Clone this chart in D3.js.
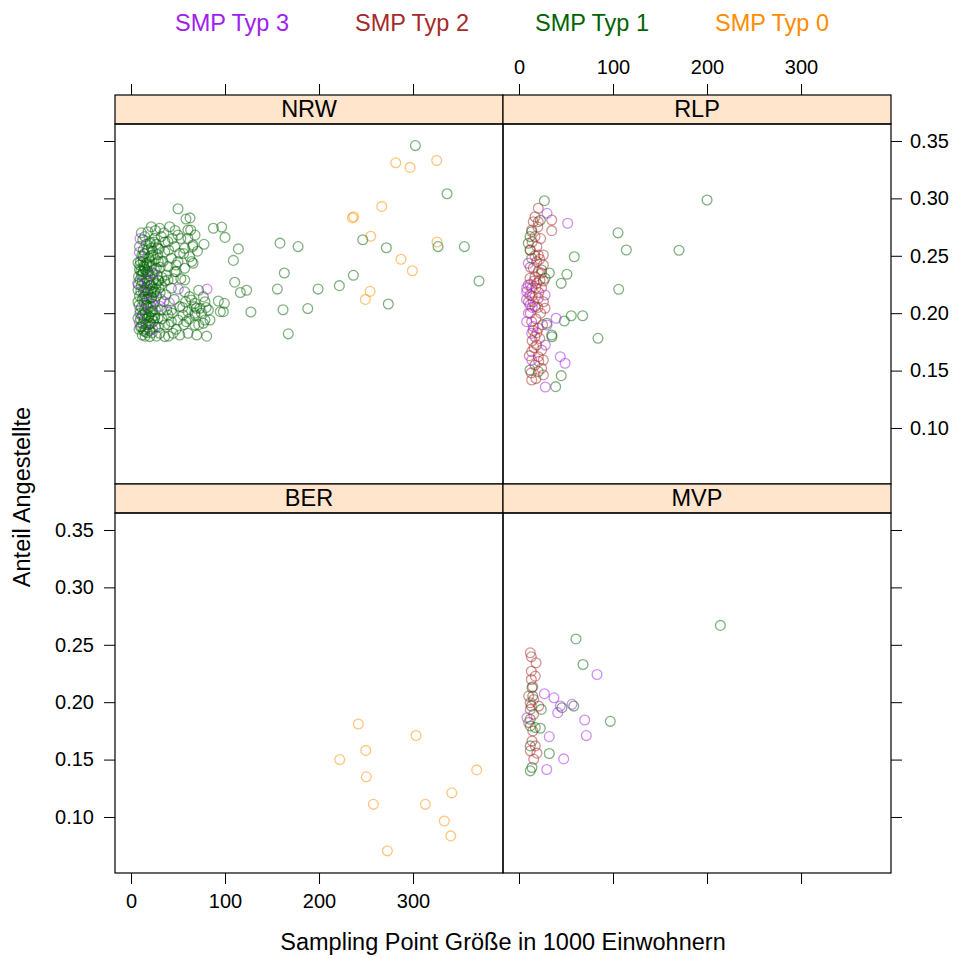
<!DOCTYPE html>
<html><head><meta charset="utf-8">
<script src="https://cdn.jsdelivr.net/npm/d3@7/dist/d3.min.js"></script>
<style>body{margin:0;background:#fff}</style>
</head><body><svg id="c" width="963" height="958"></svg>
<script>
const groups = ["SMP Typ 3","SMP Typ 2","SMP Typ 1","SMP Typ 0"];
const groupColors = ["#A020F0","#A52A2A","#006400","#FF8C00"];
const panelNames = ["NRW","RLP","BER","MVP"];
const xTicks = [0,100,200,300];
const yTicks = [0.10,0.15,0.20,0.25,0.30,0.35];
const xTitle = "Sampling Point Größe in 1000 Einwohnern";
const yTitle = "Anteil Angestellte";

const nrwTyp0 = [[281.6,0.331],[296.8,0.327],[325.2,0.333],[266.7,0.293],[235.5,0.283],[236.8,0.284],[255,0.267],[325.5,0.262],[287.2,0.247],[299.3,0.237],[254.3,0.219],[249.3,0.212]];
const nrwTyp1 = [[302.5,0.346],[336.2,0.304],[246.5,0.264],[158.5,0.261],[177.7,0.258],[271.6,0.257],[326.6,0.258],[354.6,0.258],[163.1,0.235],[236.5,0.233],[221.6,0.224],[370.2,0.228],[155.7,0.221],[199,0.221],[273.7,0.208],[127.5,0.201],[161.7,0.203],[188,0.204],[167.3,0.182],
[50,0.291],[58.5,0.282],[62.8,0.283],[87.6,0.274],[96.5,0.275],[100,0.266],[114.2,0.256],[108.9,0.246],[110.3,0.227],[123,0.22],[116.3,0.218],[69.9,0.181],[80.5,0.180],
[68.1,0.268],[77.7,0.26],[70.7,0.254],[65.6,0.258],[64.5,0.245],[63.5,0.2725],[64.5,0.2115],[77,0.2144],[78.7,0.21],[92.9,0.2106],[99.3,0.2086],[73.4,0.2043],[82.3,0.2028],[95,0.2013],[68.1,0.1984],[78.7,0.1941],[84,0.1941],[98.2,0.2013],[77,0.1912],[67.4,0.2057],
[21.6,0.2753],[30.5,0.2739],[41.1,0.2753],[60.6,0.2725],[18.1,0.271],[32.2,0.2667],[50,0.2681],[60.6,0.2652],[25.2,0.2652],[39.4,0.2623],[19.9,0.2609],[66,0.2594],[46.5,0.258],[28.7,0.2566],[57.1,0.2566],[35.9,0.2536],[51.8,0.2522],[62.4,0.2492],[23.4,0.2507],[42.9,0.2478],[32.2,0.2449],[50,0.2449],[16.3,0.2435],[66,0.2435],[39.4,0.2406],[26.9,0.2391],[57.1,0.2391],[12.8,0.2362],[46.5,0.2362],[19.9,0.2449],[14.6,0.2667],[21.6,0.2566],[12.8,0.2492],[9.3,0.242],
[48.2,0.2362],[37.6,0.2333],[32.2,0.2246],[42.9,0.2217],[57.1,0.2187],[62.4,0.2144],[67.8,0.2086],[21.6,0.2013],[51.8,0.2057],[60.6,0.2013],[39.4,0.1984],[28.7,0.1956],[50,0.1941],[58.8,0.1926],[19.9,0.1912],[35.9,0.1897],[67.8,0.1897],[14.6,0.1839],[30.5,0.1825],[44.7,0.1825],[19.9,0.1796],[35.9,0.1796],[51.8,0.181],[60.6,0.1825],[7.4,0.1956],[25.2,0.1956],[11,0.2333],[14.6,0.2202],[25.2,0.2187],[21.6,0.213],[7.4,0.21],[12.8,0.1984],[32.2,0.2028],[42.9,0.2028],[55.3,0.1984],[67.8,0.1999],[11,0.1883],[42.9,0.1926],[69.5,0.2043],[28.7,0.2289],[39.4,0.2289],[57.1,0.2289],[21.6,0.2246],[7.4,0.2202],
[10,0.245],[14,0.24],[18,0.236],[22,0.241],[26,0.247],[12,0.228],[16,0.231],[20,0.224],[24,0.229],[28,0.233],[9,0.215],[13,0.219],[17,0.212],[21,0.206],[25,0.21],[11,0.205],[15,0.2],[19,0.197],[23,0.202],[27,0.215],[8,0.225],[30,0.222],[14,0.209],[18,0.218],[22,0.214],[26,0.203],[10,0.195],[16,0.19],[20,0.185],[24,0.193],[12,0.181],[17,0.183],[29,0.188],[33,0.195],[35,0.21],[31,0.24],[34,0.245],[36,0.228],[13,0.255],[16,0.26],[11,0.27],[9,0.258],[15,0.238],[19,0.248],[23,0.254],[27,0.26],[8,0.232],[12,0.212],[16,0.222],[20,0.232],[24,0.218],[10,0.188],[14,0.195],[18,0.205],[22,0.196],[26,0.188],[9,0.238],[13,0.245],[17,0.242],[21,0.25],[25,0.238],[29,0.245],[11,0.224],[15,0.215],[19,0.226],[23,0.222],[27,0.226],[31,0.218],[33,0.231],[37,0.216],[38,0.203],[40,0.19],[44,0.2],[46,0.212],[45,0.23],[48,0.242],[53,0.23],[55,0.205],[58,0.21],[40,0.255],[44,0.265],[36,0.262],[30,0.256],[26,0.272],[35,0.27],[47,0.272],[53,0.265],[56,0.252],[15,0.18],[27,0.18],[40,0.18],[48,0.186],[56,0.19],[62,0.195],[72,0.19],[75,0.2],[72,0.22],[80,0.205],
[9.5,0.229],[12.5,0.234],[14.5,0.226],[17.5,0.229],[10.5,0.219],[13.5,0.214],[16.5,0.207],[19.5,0.213],[11.5,0.198],[14.5,0.203],[17.5,0.196],[20.5,0.201],[8.5,0.207],[12.5,0.191],[15.5,0.186],[18.5,0.19],[21.5,0.191],[9.5,0.2],[23.5,0.208],[25.5,0.198],[10.5,0.237],[13.5,0.241],[16.5,0.236],[19.5,0.241],[22.5,0.235],[11.5,0.25],[14.5,0.252],[17.5,0.255],[20.5,0.262],[24.5,0.262],[28.5,0.251],[7.5,0.244],[12.5,0.264],[8.5,0.186],[13.5,0.185],[22.5,0.183],[18.5,0.22],[21.5,0.219],[26.5,0.221],[29.5,0.228]];
const nrwTyp3 = [[9.6,0.265],[8.9,0.253],[23.6,0.235],[7.1,0.226],[16.7,0.228],[14.9,0.217],[50.4,0.221],[31.9,0.212],[40.8,0.209],[18.4,0.209],[9.6,0.203],[8.9,0.192],[23.1,0.186],[30.9,0.206],[80.9,0.221]];

const rlpTyp1 = [[27,0.298],[22.7,0.281],[105.3,0.270],[114.2,0.255],[170.2,0.2548],[58.8,0.2492],[51,0.2339],[32.3,0.235],[44.9,0.226],[106,0.2208],[55.6,0.1978],[67.7,0.1978],[48.2,0.1932],[84,0.1781],[35.1,0.1795],[44.9,0.1456],[39,0.136],[200,0.2986],[11.7,0.2667],[13.5,0.271],[9.9,0.2609],[11.7,0.255],[13.5,0.2478],[24.1,0.2376],[27.7,0.2304],[29.5,0.1912],[34.8,0.181],[11.7,0.1505],[20.5,0.1491]];
const rlpTyp2 = [[20.5,0.2914],[17,0.284],[15.2,0.2797],[20.5,0.2797],[34.8,0.2812],[34.8,0.2719],[13.5,0.2725],[17,0.2667],[20.5,0.2507],[25.9,0.2507],[18.8,0.2449],[25.9,0.242],[15.2,0.2391],[20.5,0.2362],[17,0.2318],[11.7,0.2304],[22.3,0.2289],[18.8,0.226],[9.9,0.2246],[13.5,0.2217],[11.7,0.2158],[20.5,0.213],[27.7,0.2043],[17,0.2057],[13.5,0.1926],[20.5,0.1868],[17,0.1795],[18.8,0.1723],[24.1,0.1679],[13.5,0.1665],[20.5,0.1621],[25.9,0.1592],[17,0.1549],[25.9,0.1462],[13.5,0.1418],
[14,0.262],[19,0.258],[22,0.247],[12,0.24],[16,0.228],[24,0.222],[21,0.218],[15,0.21],[23,0.2],[18,0.195],[12,0.2],[25,0.19],[19,0.183],[14,0.176],[22,0.178],[16,0.17],[11,0.163],[21,0.158],[24,0.152],[13,0.148],[18,0.143],[15,0.185],[20,0.205],[26,0.21],[10,0.21],[17,0.25],[23,0.265],[12,0.255],[20,0.275],[18,0.222],[14,0.215],[24,0.235],[26,0.228]];
const rlpTyp3 = [[29.8,0.287],[51.8,0.2783],[39.4,0.1956],[29.8,0.1897],[43.9,0.1621],[49,0.1564],[28,0.1357],[28,0.1723],[9.9,0.2435],[8.2,0.2217],[8.2,0.2187],[27.7,0.2158],[11.7,0.2071],[8.2,0.1926],[15.2,0.1883],[13.5,0.1825],[13.5,0.1592],[8,0.212],[10,0.2],[12,0.225],[14,0.205]];

const berTyp0 = [[241.8,0.181],[303.2,0.171],[249.7,0.158],[222,0.150],[367.7,0.141],[250.3,0.135],[341.2,0.121],[257.8,0.111],[313.1,0.111],[333.3,0.0965],[340.1,0.0835],[272.7,0.0705]];

const mvpTyp1 = [[214.2,0.2669],[60.6,0.2551],[68.1,0.2328],[45.7,0.1952],[58.2,0.1966],[97.1,0.1833],[32.2,0.1553],[12,0.1402],[13.8,0.1431],[23.7,0.1937],[22.7,0.1773],[17.3,0.1779],[12,0.1793],[13.8,0.2126],[14.6,0.2053],[13.1,0.1966],[12,0.1851],[12,0.1619]];
const mvpTyp2 = [[12,0.243],[13.1,0.2395],[18.1,0.2343],[13.1,0.227],[13.1,0.2198],[14.6,0.2135],[10.3,0.2053],[15.6,0.2024],[21,0.1966],[12,0.1937],[15.6,0.1894],[10.3,0.1822],[14.6,0.1749],[13.8,0.1662],[17.3,0.1619],[12,0.1576],[19.1,0.1556],[15.6,0.1503],[12,0.1995],[17.3,0.2227]];
const mvpTyp3 = [[83,0.2241],[27,0.2074],[37.2,0.2038],[43.9,0.1966],[56.4,0.1981],[41.2,0.1909],[69.9,0.1845],[71.6,0.1709],[32.2,0.17],[47.5,0.1506],[29.5,0.1414],[8.5,0.1865]];

const panelData = {
  NRW: {"SMP Typ 0": nrwTyp0, "SMP Typ 1": nrwTyp1, "SMP Typ 3": nrwTyp3},
  RLP: {"SMP Typ 1": rlpTyp1, "SMP Typ 2": rlpTyp2, "SMP Typ 3": rlpTyp3},
  BER: {"SMP Typ 0": berTyp0},
  MVP: {"SMP Typ 1": mvpTyp1, "SMP Typ 2": mvpTyp2, "SMP Typ 3": mvpTyp3}
};

const FONT = "'Liberation Sans', Arial, Helvetica, sans-serif";
const svg = d3.select("#c").style("font-family", FONT);
const colX = [115, 503], PW = 388;
const rowTop = [95, 484], SH = 29, PH = 360;
const x = d3.scaleLinear().domain([-17.02, 395.7]).range([0, PW]);
const y = d3.scaleLinear().domain([0.0512, 0.3648]).range([PH, 0]);
const color = d3.scaleOrdinal().domain(groups).range(groupColors);
const drawOrder = ["SMP Typ 0","SMP Typ 1","SMP Typ 2","SMP Typ 3"];

svg.append("g").selectAll("text").data(groups).join("text")
  .attr("x", (d,i) => 232 + i*180).attr("y", 31)
  .attr("text-anchor","middle").attr("font-size", 23.5)
  .attr("fill", d => color(d)).text(d => d);

panelNames.forEach((name, i) => {
  const c = i % 2, r = Math.floor(i / 2);
  const gx = colX[c], gy = rowTop[r];
  const g = svg.append("g").attr("transform", `translate(${gx},${gy})`);
  g.append("rect").attr("width", PW).attr("height", SH)
    .attr("fill", "#FFE5CC").attr("stroke", "#000").attr("stroke-width", 1.2);
  g.append("text").attr("x", PW/2).attr("y", SH - 7).attr("text-anchor","middle")
    .attr("font-size", 23.5).text(name);
  const p = g.append("g").attr("transform", `translate(0,${SH})`);
  const cid = "clip" + i;
  p.append("clipPath").attr("id", cid).append("rect").attr("width", PW).attr("height", PH);
  const pts = p.append("g").attr("clip-path", `url(#${cid})`);
  drawOrder.forEach(grp => {
    const data = panelData[name][grp];
    if (!data) return;
    pts.selectAll(null).data(data).join("circle")
      .attr("cx", d => x(d[0])).attr("cy", d => y(d[1])).attr("r", 4.9)
      .attr("fill", "none").attr("stroke", color(grp))
      .attr("stroke-opacity", 0.5).attr("stroke-width", 1.3);
  });
  p.append("rect").attr("width", PW).attr("height", PH)
    .attr("fill", "none").attr("stroke", "#000").attr("stroke-width", 1.2);
});

function styleAxis(sel) {
  sel.select(".domain").remove();
  sel.selectAll(".tick line").attr("stroke", "#000").attr("stroke-width", 1);
  sel.selectAll(".tick text").attr("font-size", 20).attr("font-family", FONT).attr("fill", "#000");
}
const fmtY = d3.format(".2f");
[0,1].forEach(r => {
  const ax = d3.axisLeft(y).tickValues(yTicks).tickSize(11).tickPadding(10)
    .tickFormat(r === 1 ? fmtY : () => "");
  svg.append("g").attr("transform", `translate(${colX[0]},${rowTop[r]+SH})`).call(ax).call(styleAxis);
  const axr = d3.axisRight(y).tickValues(yTicks).tickSize(11).tickPadding(8)
    .tickFormat(r === 0 ? fmtY : () => "");
  svg.append("g").attr("transform", `translate(${colX[1]+PW},${rowTop[r]+SH})`).call(axr).call(styleAxis);
});
[0,1].forEach(c => {
  const axt = d3.axisTop(x).tickValues(xTicks).tickSize(11).tickPadding(10)
    .tickFormat(c === 1 ? d3.format("d") : () => "");
  svg.append("g").attr("transform", `translate(${colX[c]},${rowTop[0]})`).call(axt).call(styleAxis);
  const axb = d3.axisBottom(x).tickValues(xTicks).tickSize(11).tickPadding(10)
    .tickFormat(c === 0 ? d3.format("d") : () => "");
  svg.append("g").attr("transform", `translate(${colX[c]},${rowTop[1]+SH+PH})`).call(axb).call(styleAxis);
});

svg.append("text").attr("x", 503).attr("y", 950).attr("text-anchor","middle")
  .attr("font-size", 23.5).text(xTitle);
svg.append("text").attr("transform", "translate(30,497) rotate(-90)")
  .attr("text-anchor","middle").attr("font-size", 23.5).text(yTitle);
</script></body></html>
